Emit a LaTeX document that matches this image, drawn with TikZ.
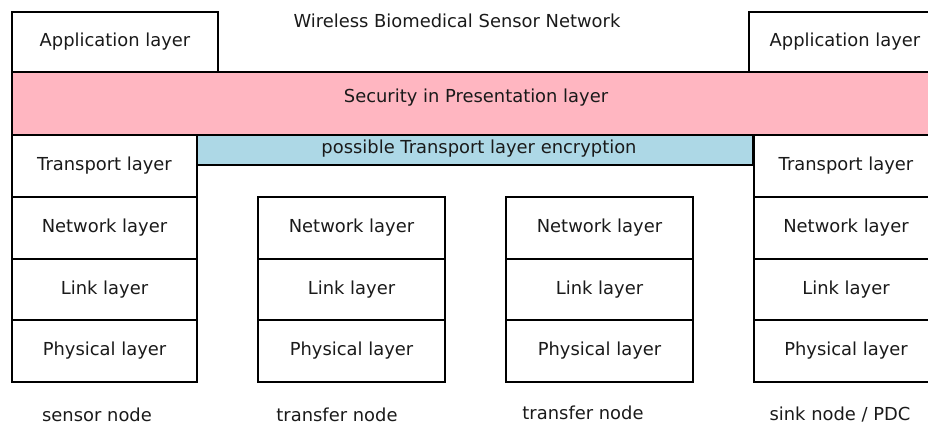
\documentclass[tikz,border=0pt]{standalone}
\usepackage{fontspec}
\setmainfont{DejaVu Sans}
\definecolor{secpink}{HTML}{FFB6C1}
\definecolor{encblue}{HTML}{ADD8E6}
\definecolor{ink}{HTML}{1A1A1A}
\begin{document}
\begin{tikzpicture}[x=1pt,y=-1pt,
  every node/.style={font=\fontsize{17.9}{21}\selectfont, text=ink, inner sep=0pt, outer sep=0pt},
  layer/.style={draw=black, line width=1.6pt, fill=white, minimum height=62pt},
  band/.style={draw=black, line width=1.6pt, minimum height=#1},
  caption/.style={anchor=center}]
\useasboundingbox (0,0) rectangle (928,428);

% title
\node[caption] (title) at (457,21) {Wireless Biomedical Sensor Network};

% application layers of the end nodes
\node[layer, minimum width=206pt, minimum height=60pt] (sApp) at (115,42) {Application layer};
\node[layer, minimum width=192pt, minimum height=60pt] (kApp) at (845,42) {Application layer};

% end-to-end security band
\node[band=63pt, fill=secpink, minimum width=926pt] (sec) at (475,103.5) {};
\node[caption] (secT) at (476,98) {Security in Presentation layer};

% transport layers
\node[layer, minimum width=185pt] (sTr) at (104.5,166) {Transport layer};
\node[layer, minimum width=184pt] (kTr) at (846,166) {Transport layer};

% transport encryption band
\node[band=30pt, fill=encblue, minimum width=556pt] (enc) at (475,150) {};
\node[caption] (encT) at (479,149) {possible Transport layer encryption};

% lower layers of the four nodes
\foreach \n/\cx/\w in {s/104.5/185, a/351.5/187, b/599.5/187, k/846/184}{
  \node[layer, minimum width=\w pt] (\n Net) at (\cx,228) {Network layer};
  \node[layer, minimum width=\w pt, minimum height=61pt] (\n Lnk) at (\cx,289.5) {Link layer};
  \node[layer, minimum width=\w pt] (\n Phy) at (\cx,351) {Physical layer};
}

% node captions
\node[caption] (sCap) at (97,415) {sensor node};
\node[caption] (aCap) at (337,415) {transfer node};
\node[caption] (bCap) at (583,413) {transfer node};
\node[caption] (kCap) at (840,415) {sink node / PDC};
\end{tikzpicture}
\end{document}
